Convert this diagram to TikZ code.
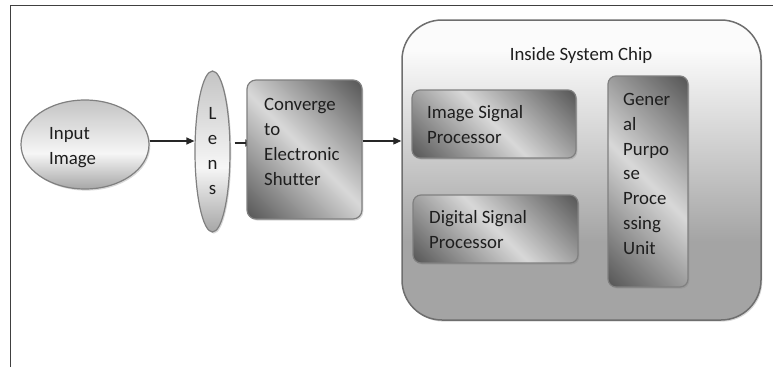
\documentclass[tikz,border=0pt]{standalone}
\usepackage{fontspec}
\setmainfont{Carlito}[Ligatures=CommonOff]
\usetikzlibrary{shapes.geometric,shadows,arrows.meta,calc}
\pgfdeclarelayer{bg}
\pgfsetlayers{bg,main}
\definecolor{txtc}{HTML}{1E1E1E}
\definecolor{edgec}{HTML}{808080}
\definecolor{chipedge}{HTML}{6E6E6E}
\definecolor{framec}{HTML}{404040}
\definecolor{ellbot}{HTML}{A6A6A6}
\definecolor{elllight}{HTML}{F6F6F6}
\definecolor{elltop}{HTML}{C4C4C4}
\definecolor{boxdark}{HTML}{5A5A5A}
\definecolor{boxlight}{HTML}{D8D8D8}
\definecolor{chipbot}{HTML}{A4A4A4}
\definecolor{chiptop}{HTML}{FBFBFB}
\pgfdeclareverticalshading{ellshade}{100bp}{color(0bp)=(ellbot); color(25bp)=(ellbot); color(45bp)=(elllight); color(75bp)=(elltop); color(100bp)=(elltop)}
\pgfdeclarehorizontalshading{diagshade}{100bp}{color(0bp)=(boxdark); color(16bp)=(boxdark); color(50bp)=(boxlight); color(84bp)=(boxdark); color(100bp)=(boxdark)}
\pgfdeclareverticalshading{chipshade}{100bp}{color(0bp)=(chipbot); color(25bp)=(chipbot); color(38bp)=(chipbot); color(70bp)=(chiptop); color(100bp)=(chiptop)}
\tikzset{
  shapebase/.style={draw=edgec, line width=1.2pt, inner sep=0pt},
  softshadow/.style={drop shadow={shadow xshift=1.3pt, shadow yshift=-1.6pt, opacity=0.3}},
  ellnode/.style={shapebase, ellipse, shading=ellshade, softshadow},
  boxnode/.style={shapebase, rectangle, rounded corners=9pt, shading=diagshade, shading angle=45, softshadow},
  chipnode/.style={draw=chipedge, line width=1.5pt, inner sep=0pt, rectangle, rounded corners=40pt, shading=chipshade, softshadow},
  txt/.style={text=txtc, font=\fontsize{18.8}{25}\selectfont, inner sep=0pt, align=left, anchor=north west},
  arr/.style={draw=black!85, line width=1.2pt, -{Triangle[length=8pt,width=7pt]}},
}
\begin{document}
\begin{tikzpicture}[x=1pt,y=-1pt]
\useasboundingbox (0,0) rectangle (773,367);
\draw[framec, line width=1pt] (10.5,367) -- (10.5,5.5) -- (773,5.5);

% shapes
\node[ellnode, minimum width=128pt, minimum height=89pt] (inp) at (85,144.5) {};
\node[ellnode, minimum width=35pt, minimum height=161pt] (lens) at (212.5,151.5) {};
\node[boxnode, minimum width=115pt, minimum height=139pt] (conv) at (304.5,149.5) {};
\node[chipnode, minimum width=359pt, minimum height=300pt] (chip) at (581.5,170) {};
\node[boxnode, rounded corners=8pt, minimum width=164pt, minimum height=68pt] (isp) at (494,124) {};
\node[boxnode, rounded corners=8pt, minimum width=165pt, minimum height=68pt] (dsp) at (495.5,229) {};
\node[boxnode, rounded corners=8pt, minimum width=80pt, minimum height=211pt] (gppu) at (648,181.5) {};

% texts
\node[txt] (inptxt) at (49,121.5) {\strut Input\\Image};
\node[txt, align=center, anchor=north] (lenstxt) at (212.5,102) {\strut L\\e\\n\\s};
\node[txt] (convtxt) at (264,92.5) {\strut Converge\\to\\Electronic\\Shutter};
\node[txt, anchor=base] (chiptxt) at (581,60) {Inside System Chip};
\node[txt] (isptxt) at (427,100.5) {\strut Image Signal\\Processor};
\node[txt] (dsptxt) at (429,205.5) {\strut Digital Signal\\Processor};
\node[txt, font=\fontsize{18.8}{24.8}\selectfont] (gpputxt) at (623,88) {\strut Gener\\al\\Purpo\\se\\Proce\\ssing\\Unit};

% connectors
\coordinate (a1) at ([yshift=3.5pt]inp.east);
\draw[arr] (a1) -- (a1 -| lens.west);
\coordinate (a2) at ([yshift=8.5pt]lens.east);
\begin{pgfonlayer}{bg}
\draw[arr, shorten <=4pt] (a2) -- ($(a2 -| conv.west)+(7pt,0pt)$);
\end{pgfonlayer}
\coordinate (a3) at ([yshift=8.5pt]conv.east);
\draw[arr] (a3) -- (a3 -| chip.west);
\end{tikzpicture}
\end{document}
